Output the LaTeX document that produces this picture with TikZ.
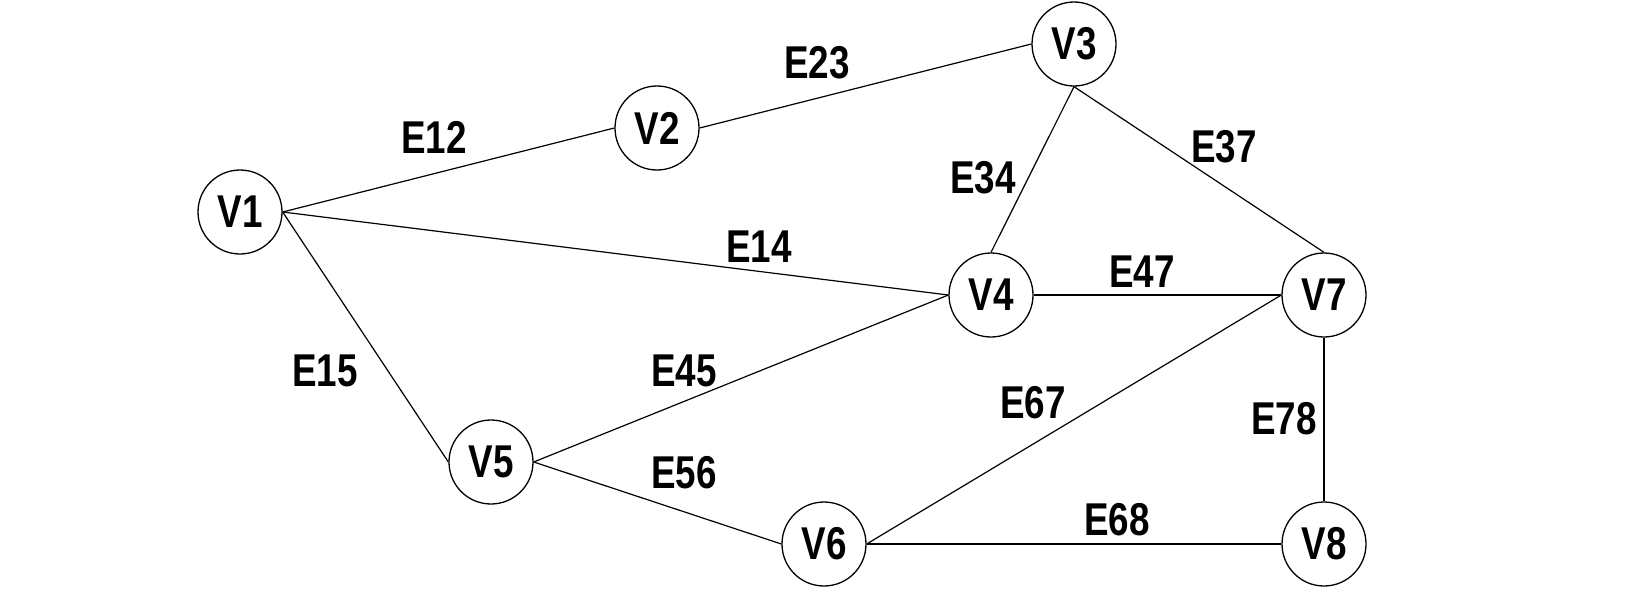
\documentclass[tikz,border=0pt]{standalone}
\usepackage{fontspec}
\setmainfont{Liberation Sans}[FakeStretch=0.8]
\begin{document}
\begin{tikzpicture}[x=1pt,y=-1pt,
  vert/.style={circle,draw,line width=1.3pt,minimum size=84pt,inner sep=0pt,font=\fontsize{46}{46}\selectfont\bfseries},
  elabel/.style={inner sep=0pt,font=\fontsize{46}{46}\selectfont\bfseries},
  edge/.style={line width=1.2pt}]
\useasboundingbox (0,0) rectangle (1643,594);
\node[vert] (v1) at (240,212) {V1};
\node[vert] (v2) at (657,128) {V2};
\node[vert] (v3) at (1074,44) {V3};
\node[vert] (v4) at (991,295) {V4};
\node[vert] (v5) at (491,462) {V5};
\node[vert] (v6) at (824,544) {V6};
\node[vert] (v7) at (1324,295) {V7};
\node[vert] (v8) at (1324,544) {V8};
\draw[edge] (v1.east) -- (v2.west);
\draw[edge] (v2.east) -- (v3.west);
\draw[edge] (v1.east) -- (v4.west);
\draw[edge] (v1.east) -- (v5.west);
\draw[edge] (v3.south) -- (v4.north);
\draw[edge] (v3.south) -- (v7.north);
\draw[edge] (v4.east) -- (v7.west);
\draw[edge] (v4.west) -- (v5.east);
\draw[edge] (v5.east) -- (v6.west);
\draw[edge] (v6.east) -- (v7.west);
\draw[edge] (v6.east) -- (v8.west);
\draw[edge] (v7.south) -- (v8.north);
\node[elabel] (e12) at (434,137) {E12};
\node[elabel] (e23) at (817,63) {E23};
\node[elabel] (e37) at (1224,147) {E37};
\node[elabel] (e34) at (983,178) {E34};
\node[elabel] (e14) at (759,247) {E14};
\node[elabel] (e47) at (1142,272) {E47};
\node[elabel] (e15) at (325,371) {E15};
\node[elabel] (e45) at (684,371) {E45};
\node[elabel] (e67) at (1033,403) {E67};
\node[elabel] (e78) at (1284,419) {E78};
\node[elabel] (e56) at (684,473) {E56};
\node[elabel] (e68) at (1117,520) {E68};
\end{tikzpicture}
\end{document}
